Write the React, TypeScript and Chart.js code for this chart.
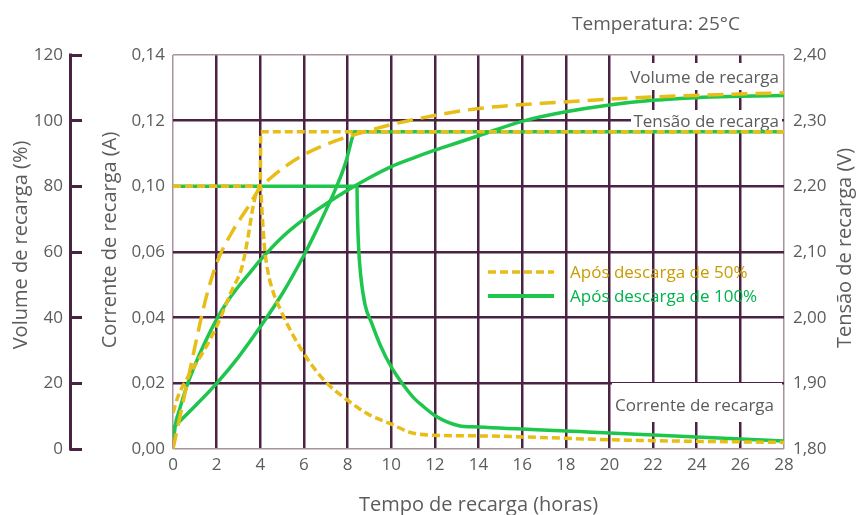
import React, { useEffect, useRef } from "react";
import { Chart, registerables } from "chart.js";

Chart.register(...registerables);

// ---------- data ----------
const X_MIN = 0;
const X_MAX = 28;
const X_STEP = 2;

const CURRENT_TICK_LABELS = ["0,00", "0,02", "0,04", "0,06", "0,10", "0,12", "0,14"];

// After 50% discharge (yellow)
const VOL50_HOURS = [0, 0.5, 1.0, 1.4, 1.7, 2.06, 2.7, 3.44, 4, 4.45, 5.2, 5.96, 7.5, 8.25, 10, 12, 14, 17.7, 22.3, 28];
const VOL50_PCT = [0, 15.5, 31, 43, 50.5, 57.6, 66, 73.7, 79.6, 82.4, 86.3, 89.5, 94, 95.6, 98.8, 101.6, 103.7, 105.6, 107.3, 108.5];

const VOLT50_HOURS = [0, 0.23, 0.6, 1.15, 1.92, 2.7, 3.16, 3.44, 3.67, 3.9, 4, 4.02, 28];
const VOLT50_V = [1.855, 1.88, 1.905, 1.935, 1.981, 2.042, 2.077, 2.123, 2.169, 2.195, 2.2, 2.283, 2.283];

const CUR50_HOURS = [0, 4, 4.1, 4.2, 4.35, 4.6, 4.9, 5.3, 5.8, 6.4, 7.06, 7.97, 9.0, 10.0, 10.9, 11.9, 14, 20.8, 28];
const CUR50_A = [0.08, 0.08, 0.07, 0.061, 0.054, 0.0476, 0.0428, 0.0372, 0.0312, 0.0252, 0.02, 0.015, 0.0104, 0.0076, 0.005, 0.0042, 0.004, 0.0027, 0.002];

// After 100% discharge (green)
const VOL100_HOURS = [0, 0.1, 0.3, 0.6, 1, 1.5, 2, 2.5, 3, 3.5, 4, 5, 6, 7, 8, 9, 10, 11, 12, 13, 14, 16, 18, 20, 22, 24, 26, 28];
const VOL100_PCT = [0, 7, 12, 18.5, 25.5, 33, 39.5, 45, 49.5, 53.5, 57.5, 64.5, 70, 74.6, 78.8, 82.6, 86, 88.6, 91, 93.2, 95.4, 99.8, 102.7, 104.8, 106.2, 107, 107.4, 107.7];

const VOLT100_HOURS = [0, 1, 2, 3, 4, 5, 6, 6.5, 7, 7.5, 7.9, 8.25, 8.3, 28];
const VOLT100_V = [1.832, 1.865, 1.9, 1.94, 1.986, 2.036, 2.095, 2.128, 2.163, 2.2, 2.235, 2.278, 2.283, 2.283];

const CUR100_HOURS = [0, 8.43, 8.45, 8.5, 8.6, 8.8, 9.1, 9.5, 10, 10.5, 11, 11.5, 12, 12.5, 13.1, 14, 19, 28];
const CUR100_A = [0.08, 0.08, 0.072, 0.062, 0.053, 0.044, 0.0384, 0.0316, 0.025, 0.02, 0.0158, 0.0128, 0.0102, 0.0084, 0.0071, 0.0067, 0.0052, 0.0024];

const LEGEND_LABELS = ["Após descarga de 50%", "Após descarga de 100%"];
const TITLE_TEXT = "Temperatura: 25°C";
const X_TITLE = "Tempo de recarga (horas)";
const VOL_TITLE = "Volume de recarga (%)";
const CUR_TITLE = "Corrente de recarga (A)";
const VOLT_TITLE = "Tensão de recarga (V)";
const NOTE_VOLUME = "Volume de recarga";
const NOTE_VOLTAGE = "Tensão de recarga";
const NOTE_CURRENT = "Corrente de recarga";

// ---------- styles ----------
const YELLOW = "#e8bd17";
const GREEN = "#1fc64d";
const GRID_DARK = "#4a2242";
const GRID_LIGHT = "#a8929f";
const TEXT = "#5c5c5c";
const GOLD_TEXT = "#c99c00";
const GREEN_TEXT = "#00b34a";
const FONT = "'Open Sans', 'Noto Sans', sans-serif";

const pts = (xs: number[], ys: number[]) => xs.map((x, i) => ({ x, y: ys[i] }));

const overlayPlugin = {
  id: "overlay",
  beforeDatasetsDraw(chart: any) {
    const { ctx, chartArea } = chart;
    const vol = chart.scales.yVol;
    ctx.save();
    // outer volume axis line
    ctx.strokeStyle = GRID_DARK;
    ctx.lineWidth = 3;
    ctx.beginPath();
    const lx = vol.right - 11.5;
    ctx.moveTo(lx, chartArea.top - 1.5);
    ctx.lineTo(lx, chartArea.bottom + 1.5);
    ctx.stroke();

    // white boxes behind notes
    ctx.fillStyle = "#ffffff";
    const r = chartArea.right;
    ctx.fillRect(r - 157, chartArea.top + 8, 155, 27);
    ctx.fillRect(r - 153, chartArea.top + 55, 151, 20);
    ctx.fillRect(r - 172, chartArea.top + 328, 170, 39);

    ctx.fillStyle = TEXT;
    ctx.font = `17px ${FONT}`;
    ctx.textAlign = "right";
    ctx.textBaseline = "alphabetic";
    ctx.fillText(NOTE_VOLUME, r - 5, chartArea.top + 28);
    ctx.fillText(NOTE_VOLTAGE, r - 5, chartArea.top + 72);
    ctx.fillText(NOTE_CURRENT, r - 10, chartArea.top + 356);
    ctx.restore();
  },
  afterDatasetsDraw(chart: any) {
    const { ctx, chartArea, width, height } = chart;
    ctx.save();
    // legend
    const lx0 = chartArea.left + 315;
    const lx1 = chartArea.left + 381;
    ctx.lineWidth = 3.5;
    ctx.strokeStyle = YELLOW;
    ctx.setLineDash([8, 4]);
    ctx.beginPath();
    ctx.moveTo(lx0, chartArea.top + 217);
    ctx.lineTo(lx1, chartArea.top + 217);
    ctx.stroke();
    ctx.setLineDash([]);
    ctx.strokeStyle = GREEN;
    ctx.lineWidth = 4;
    ctx.beginPath();
    ctx.moveTo(lx0, chartArea.top + 241);
    ctx.lineTo(lx1, chartArea.top + 241);
    ctx.stroke();
    ctx.font = `17px ${FONT}`;
    ctx.textAlign = "left";
    ctx.textBaseline = "alphabetic";
    ctx.fillStyle = GOLD_TEXT;
    ctx.fillText(LEGEND_LABELS[0], chartArea.left + 397, chartArea.top + 223);
    ctx.fillStyle = GREEN_TEXT;
    ctx.fillText(LEGEND_LABELS[1], chartArea.left + 397, chartArea.top + 247);

    // titles
    ctx.fillStyle = TEXT;
    ctx.font = `19px ${FONT}`;
    ctx.fillText(TITLE_TEXT, 572, 30);

    ctx.font = `20px ${FONT}`;
    ctx.textAlign = "center";
    ctx.fillText(X_TITLE, (chartArea.left + chartArea.right) / 2, height - 4);

    const rot = (text: string, x: number, y: number) => {
      ctx.save();
      ctx.translate(x, y);
      ctx.rotate(-Math.PI / 2);
      ctx.fillText(text, 0, 0);
      ctx.restore();
    };
    rot(VOL_TITLE, 27, 245);
    rot(CUR_TITLE, 116, 240);
    rot(VOLT_TITLE, width - 5, 248);
    ctx.restore();
  },
};

const edgeAware = (count: number, light: any, dark: any) => (c: any) =>
  c.index === 0 || c.index === count - 1 ? light : dark;

export default function App() {
  const ref = useRef<HTMLCanvasElement | null>(null);

  useEffect(() => {
    if (!ref.current) return;
    Chart.defaults.font.family = FONT;
    const chart = new Chart(ref.current, {
      type: "line",
      data: {
        datasets: [
          {
            label: "vol50",
            data: pts(VOL50_HOURS, VOL50_PCT),
            yAxisID: "yVol",
            borderColor: YELLOW,
            borderWidth: 3.5,
            borderDash: [16, 8],
          },
          {
            label: "volt50",
            data: pts(VOLT50_HOURS, VOLT50_V),
            yAxisID: "yVolt",
            borderColor: YELLOW,
            borderWidth: 3.5,
            borderDash: [8, 4],
          },
          {
            label: "cur50",
            data: pts(CUR50_HOURS, CUR50_A),
            yAxisID: "yCur",
            borderColor: YELLOW,
            borderWidth: 3.5,
            borderDash: [8, 4],
          },
          {
            label: "vol100",
            data: pts(VOL100_HOURS, VOL100_PCT),
            yAxisID: "yVol",
            borderColor: GREEN,
            borderWidth: 3.5,
          },
          {
            label: "volt100",
            data: pts(VOLT100_HOURS, VOLT100_V),
            yAxisID: "yVolt",
            borderColor: GREEN,
            borderWidth: 3.5,
          },
          {
            label: "cur100",
            data: pts(CUR100_HOURS, CUR100_A),
            yAxisID: "yCur",
            borderColor: GREEN,
            borderWidth: 3.5,
          },
        ],
      },
      options: {
        animation: false,
        responsive: true,
        maintainAspectRatio: false,
        events: [],
        layout: { padding: { top: 55, left: 0, right: 0, bottom: 0 } },
        elements: {
          point: { radius: 0 },
          line: { cubicInterpolationMode: "monotone", fill: false },
        },
        plugins: {
          legend: { display: false },
          tooltip: { enabled: false },
          title: { display: false },
        },
        scales: {
          x: {
            type: "linear",
            min: X_MIN,
            max: X_MAX,
            ticks: {
              stepSize: X_STEP,
              color: TEXT,
              font: { size: 17 },
              padding: 6,
            },
            border: { display: false },
            grid: {
              color: edgeAware(15, GRID_LIGHT, GRID_DARK),
              lineWidth: edgeAware(15, 1.5, 2.5),
              drawTicks: false,
            },
            afterFit: (s: any) => {
              s.height = 66;
            },
          },
          yCur: {
            type: "linear",
            position: "left",
            weight: 0,
            min: 0,
            max: 0.12,
            ticks: {
              stepSize: 0.02,
              color: TEXT,
              font: { size: 17 },
              padding: 8,
              callback: (_v: any, i: number) => CURRENT_TICK_LABELS[i],
            },
            border: { display: false },
            grid: {
              color: edgeAware(7, GRID_LIGHT, GRID_DARK),
              lineWidth: edgeAware(7, 1.5, 2.5),
              drawTicks: false,
            },
            afterFit: (s: any) => {
              s.width = 91;
            },
          },
          yVol: {
            type: "linear",
            position: "left",
            weight: 1,
            min: 0,
            max: 120,
            ticks: {
              stepSize: 20,
              color: TEXT,
              font: { size: 17 },
              padding: 7,
            },
            border: { display: false },
            grid: {
              drawOnChartArea: false,
              drawTicks: true,
              tickLength: 12,
              tickWidth: 3,
              tickColor: GRID_DARK,
            },
            afterFit: (s: any) => {
              s.width = 82;
            },
          },
          yVolt: {
            type: "linear",
            position: "right",
            min: 1.8,
            max: 2.4,
            ticks: {
              stepSize: 0.1,
              color: TEXT,
              font: { size: 17 },
              padding: 9,
              callback: (v: any) => Number(v).toFixed(2).replace(".", ","),
            },
            border: { display: false },
            grid: { drawOnChartArea: false, drawTicks: false },
            afterFit: (s: any) => {
              s.width = 72;
            },
          },
        },
      } as any,
      plugins: [overlayPlugin],
    });
    return () => chart.destroy();
  }, []);

  return (
    <div style={{ position: "fixed", left: 0, top: 0, width: 856, height: 515, background: "#fff" }}>
      <canvas ref={ref} />
    </div>
  );
}
